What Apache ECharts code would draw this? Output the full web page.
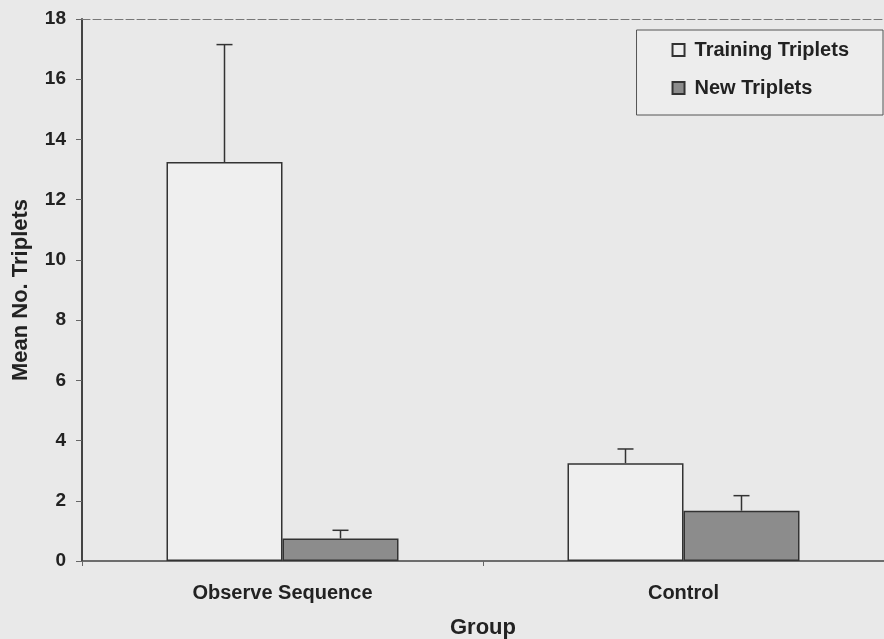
<!DOCTYPE html>
<html>
<head>
<meta charset="utf-8">
<script src="https://cdn.jsdelivr.net/npm/echarts@6/dist/echarts.min.js"></script>
<style>
  html, body { margin: 0; padding: 0; background: #e9e9e9; }
  #chart { width: 884px; height: 639px; }
</style>
</head>
<body>
<div id="chart"></div>
<script>
const groups = ['Observe Sequence', 'Control'];
const trainingMean = [13.25, 3.25];
const trainingErr = [3.9, 0.47];
const newMean = [0.75, 1.67];
const newErr = [0.27, 0.5];
const yTicks = [0, 2, 4, 6, 8, 10, 12, 14, 16, 18];

const barW = 116;
const font = 'Liberation Sans, Arial, sans-serif';

// error bar points: [category, mean, err, side]
let errData = [];
groups.forEach((g, i) => {
    errData.push([i, trainingMean[i], trainingErr[i], -1]);
    errData.push([i, newMean[i], newErr[i], 1]);
});

let chart = echarts.init(document.getElementById('chart'));

const option = {
    backgroundColor: '#e9e9e9',
    animation: false,
    textStyle: { fontFamily: font },
    grid: { left: 82, right: 0, top: 19, bottom: 78, outerBoundsMode: 'none', containLabel: false },
    legend: {
        orient: 'vertical',
        right: 1,
        top: 30,
        padding: [10, 34, 17, 35],
        itemGap: 18,
        itemWidth: 12,
        itemHeight: 12,
        backgroundColor: '#ededed',
        borderColor: '#555',
        borderWidth: 1,
        borderRadius: 0,
        textStyle: { fontSize: 20, fontWeight: 'bold', color: '#222', fontFamily: font, padding: [0, 0, 0, 5] },
        data: [
            { name: 'Training Triplets', icon: 'rect' },
            { name: 'New Triplets', icon: 'rect' }
        ]
    },
    xAxis: [{
        type: 'category',
        data: groups,
        name: 'Group',
        nameLocation: 'middle',
        nameGap: 56,
        nameTextStyle: { fontSize: 22, fontWeight: 'bold', color: '#222' },
        axisLine: { lineStyle: { color: '#444', width: 1.5 } },
        axisTick: { show: true, length: 5, lineStyle: { color: '#666' } },
        axisLabel: { fontSize: 20, fontWeight: 'bold', color: '#222', margin: 22 }
    }, {
        type: 'category',
        position: 'top',
        data: groups,
        axisLine: { lineStyle: { color: '#777', width: 1, type: [8, 3] } },
        axisTick: { show: false },
        axisLabel: { show: false }
    }],
    yAxis: {
        type: 'value',
        min: 0,
        max: 18,
        interval: 2,
        name: 'Mean No. Triplets',
        nameLocation: 'middle',
        nameGap: 50,
        nameTextStyle: { fontSize: 22, fontWeight: 'bold', color: '#222' },
        axisLine: { show: true, lineStyle: { color: '#444', width: 2 } },
        axisTick: { show: true, length: 6, lineStyle: { color: '#666' } },
        splitLine: { show: false },
        axisLabel: {
            fontSize: 19, fontWeight: 'bold', color: '#222', margin: 16,
            formatter: v => yTicks.includes(v) ? String(v) : ''
        }
    },
    series: [{
        name: 'Training Triplets',
        type: 'bar',
        data: trainingMean,
        barWidth: barW,
        barGap: '0%',
        itemStyle: { color: '#efefef', borderColor: '#333', borderWidth: 1.5 }
    }, {
        name: 'New Triplets',
        type: 'bar',
        data: newMean,
        barWidth: barW,
        barGap: '0%',
        itemStyle: { color: '#8c8c8c', borderColor: '#333', borderWidth: 1.5 }
    }, {
        type: 'custom',
        z: 5,
        data: errData,
        renderItem: function (params, api) {
            const base = api.coord([api.value(0), api.value(1)]);
            const top = api.coord([api.value(0), api.value(1) + api.value(2)]);
            const x = base[0] + api.value(3) * barW / 2;
            const style = { stroke: '#333', lineWidth: 1.5 };
            return {
                type: 'group',
                children: [
                    { type: 'line', shape: { x1: x, y1: base[1], x2: x, y2: top[1] }, style: style },
                    { type: 'line', shape: { x1: x - 8, y1: top[1], x2: x + 8, y2: top[1] }, style: style }
                ]
            };
        }
    }]
};

chart.setOption(option);
</script>
</body>
</html>
